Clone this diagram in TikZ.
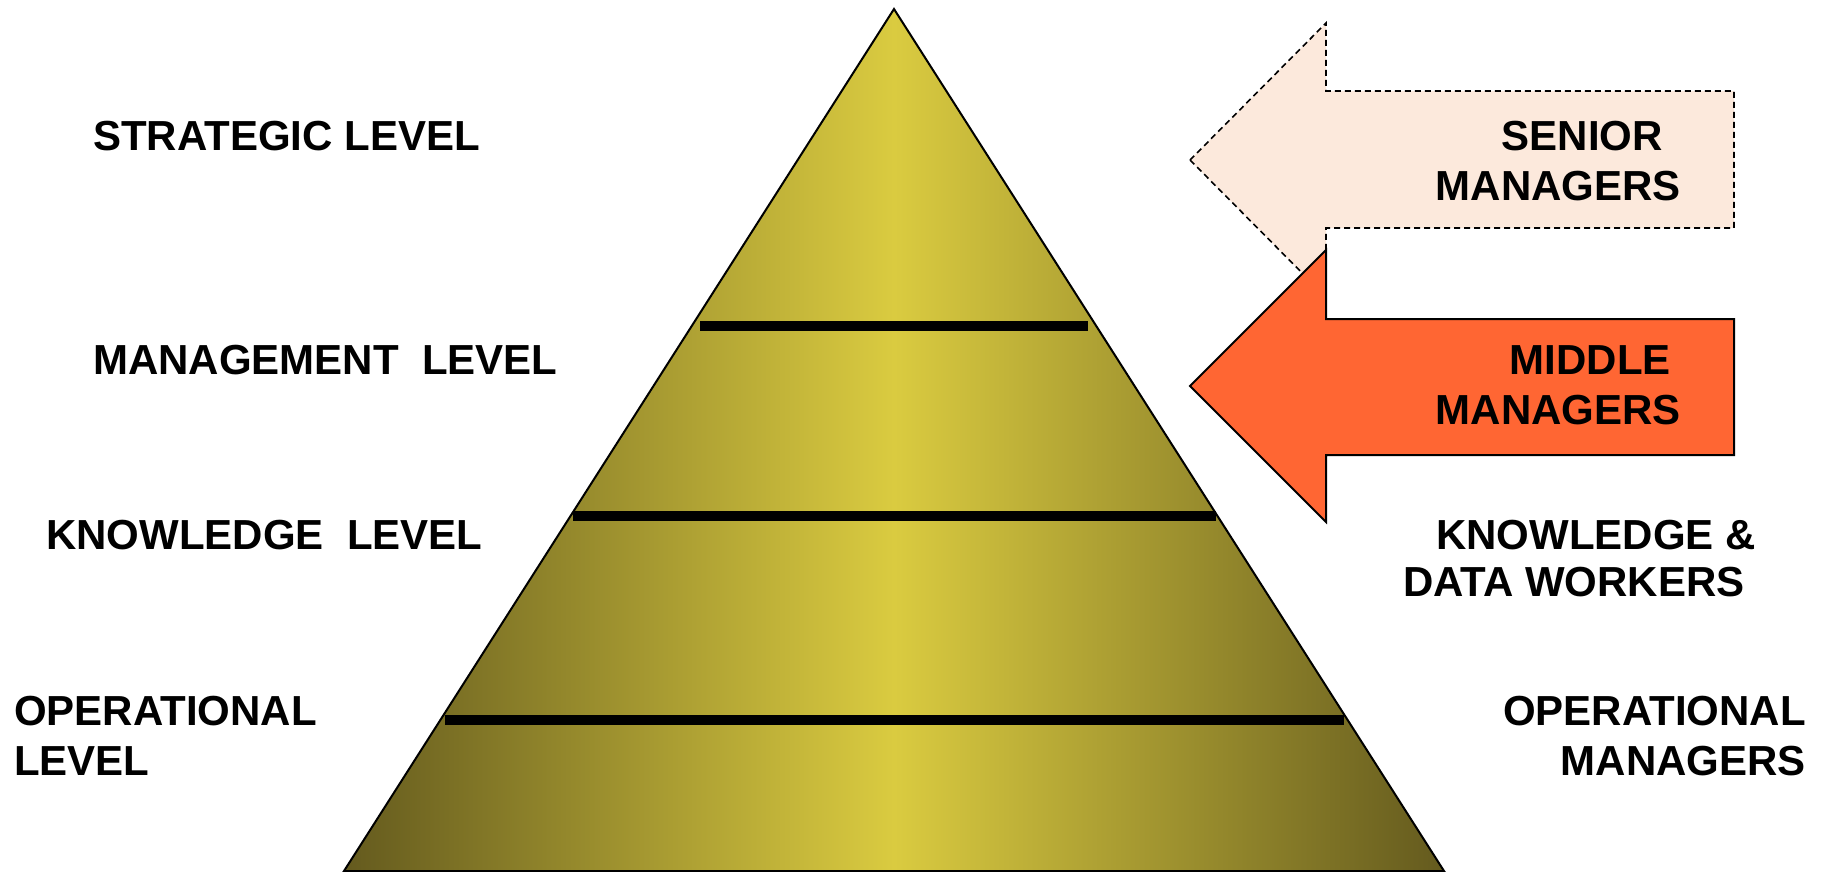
\documentclass[tikz,border=0pt]{standalone}
\usepackage{fontspec}
\setmainfont{Liberation Sans}
\definecolor{pyrdark}{HTML}{645A1E}
\definecolor{pyrlight}{HTML}{DACB40}
\definecolor{seniorfill}{HTML}{FCE9DC}
\definecolor{middlefill}{HTML}{FF6633}
\begin{document}
\begin{tikzpicture}[x=1pt,y=-1pt,
  lbl/.style={inner sep=0pt, font=\fontsize{42}{50}\selectfont\bfseries},
  divider/.style={line width=10pt},
  outline/.style={line width=2pt, line join=miter},
  dashedarrow/.style={line width=1.6pt, dash pattern=on 6pt off 4pt, fill=seniorfill},
  solidarrow/.style={line width=2pt, fill=middlefill}]
\useasboundingbox (0,0) rectangle (1821,871);
% pyramid
\coordinate (apex) at (894,9);
\coordinate (bl) at (344,871);
\coordinate (br) at (1444,871);
\shade[left color=pyrdark, right color=pyrdark, middle color=pyrlight] (apex)--(br)--(bl)--cycle;
\draw[outline] (apex)--(br)--(bl)--cycle;
% dividers
\coordinate (d1l) at (700,326); \coordinate (d1r) at (1088,326);
\coordinate (d2l) at (573,516); \coordinate (d2r) at (1216,516);
\coordinate (d3l) at (445,720); \coordinate (d3r) at (1344,720);
\draw[divider] (d1l)--(d1r);
\draw[divider] (d2l)--(d2r);
\draw[divider] (d3l)--(d3r);
% arrows
\filldraw[dashedarrow] (1190,160)--(1326,23)--(1326,91)--(1734,91)--(1734,228)--(1326,228)--(1326,297)--cycle;
\filldraw[solidarrow] (1190,386)--(1326,250)--(1326,319)--(1734,319)--(1734,455)--(1326,455)--(1326,522)--cycle;
% left labels
\node[lbl, anchor=north west] (strategic) at (93,121) {STRATEGIC LEVEL};
\node[lbl, anchor=north west] (management) at (93,345) {MANAGEMENT\ \ LEVEL};
\node[lbl, anchor=north west] (knowledge) at (46,520) {KNOWLEDGE\ \ LEVEL};
\node[lbl, anchor=north west, align=left] (operational) at (14,696) {OPERATIONAL\\LEVEL};
% right labels
\node[lbl, anchor=north east, align=right] (senior) at (1681,121) {SENIOR\hspace*{18pt}\\MANAGERS};
\node[lbl, anchor=north east, align=right] (middle) at (1681,345) {MIDDLE\hspace*{10pt}\\MANAGERS};
\node[lbl, anchor=north west, align=left, font=\fontsize{42}{47}\selectfont\bfseries] (workers) at (1403,520) {\hspace*{33pt}KNOWLEDGE \&\\DATA WORKERS};
\node[lbl, anchor=north east, align=right] (opmanagers) at (1806,696) {OPERATIONAL\\MANAGERS};
\end{tikzpicture}
\end{document}
